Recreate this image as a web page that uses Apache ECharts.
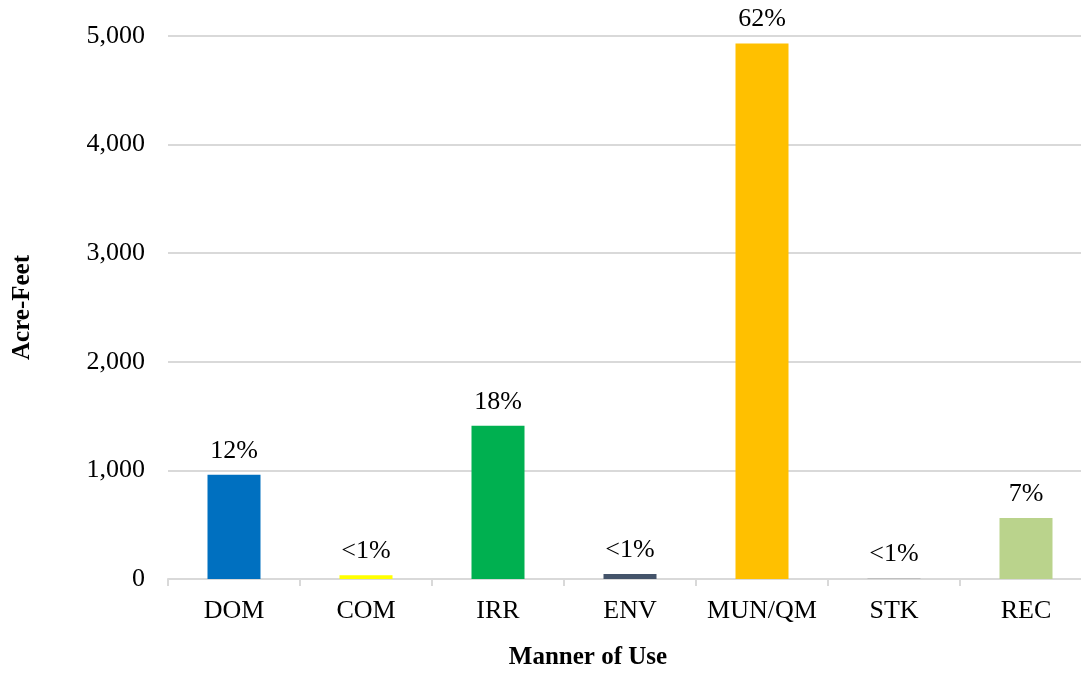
<!DOCTYPE html>
<html>
<head>
<meta charset="utf-8">
<script src="https://cdn.jsdelivr.net/npm/echarts@6/dist/echarts.min.js"></script>
<style>html,body{margin:0;padding:0;background:#fff;}#c{width:1081px;height:673px;}</style>
</head>
<body>
<div id="c"></div>
<script>
const categories = ['DOM', 'COM', 'IRR', 'ENV', 'MUN/QM', 'STK', 'REC'];
const acreFeet = [960, 35, 1410, 45, 4930, 4, 562];
const shareLabels = ['12%', '<1%', '18%', '<1%', '62%', '<1%', '7%'];
const barColors = ['#0070C0', '#FFFF00', '#00B050', '#44546A', '#FFC000', '#A5A5A5', '#BAD38C'];
const yTicks = [0, 1000, 2000, 3000, 4000, 5000];

const font = 'Liberation Serif';
const chart = echarts.init(document.getElementById('c'));
chart.setOption({
  animation: false,
  grid: { left: 168, right: -11, top: 36, bottom: 94, containLabel: false, outerBoundsMode: 'none' },
  xAxis: {
    type: 'category',
    data: categories,
    name: 'Manner of Use',
    nameLocation: 'middle',
    nameGap: 66,
    nameTextStyle: { fontFamily: font, fontSize: 25, fontWeight: 'bold', color: '#000', padding: [0, 0, 0, -84] },
    axisLine: { lineStyle: { color: '#d9d9d9', width: 2 } },
    axisTick: { show: true, interval: 0, length: 7, lineStyle: { color: '#d9d9d9', width: 2 } },
    axisLabel: { interval: 0, fontFamily: font, fontSize: 26, color: '#000', margin: 19 }
  },
  yAxis: {
    type: 'value',
    min: yTicks[0],
    max: yTicks[yTicks.length - 1],
    interval: 1000,
    name: 'Acre-Feet',
    nameLocation: 'middle',
    nameGap: 133,
    nameRotate: 90,
    nameTextStyle: { fontFamily: font, fontSize: 25, fontWeight: 'bold', color: '#000' },
    axisLine: { show: false },
    axisTick: { show: false },
    splitLine: { lineStyle: { color: '#d9d9d9', width: 2 } },
    axisLabel: {
      fontFamily: font, fontSize: 26, color: '#000', margin: 23,
      formatter: v => v.toLocaleString('en-US')
    }
  },
  series: [{
    type: 'bar',
    barWidth: 53,
    data: acreFeet.map((v, i) => ({ value: v, itemStyle: { color: barColors[i] } })),
    label: {
      show: true,
      position: 'top',
      distance: 11,
      fontFamily: font,
      fontSize: 26,
      color: '#000',
      formatter: p => shareLabels[p.dataIndex]
    }
  }]
});
</script>
</body>
</html>
